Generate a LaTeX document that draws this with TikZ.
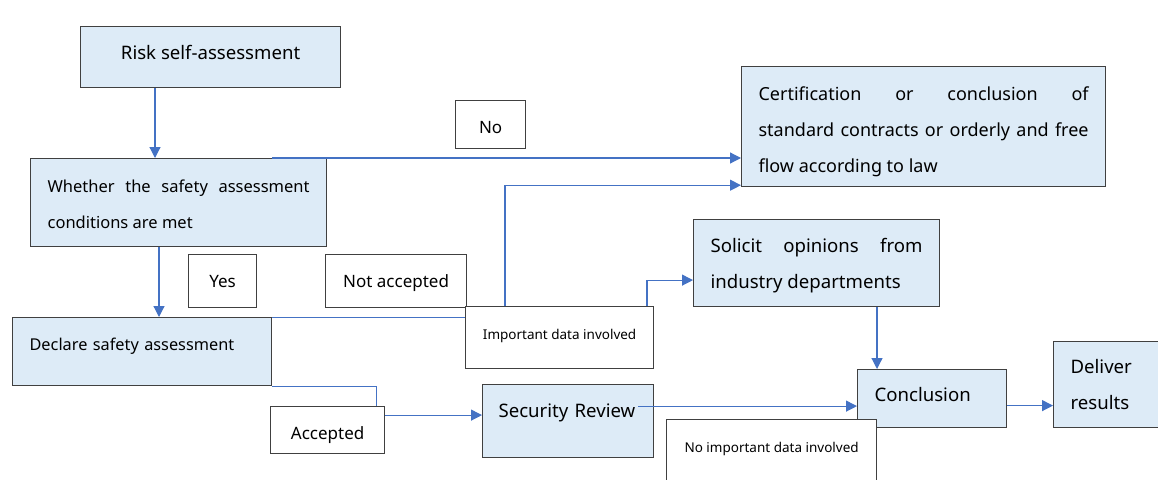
\documentclass[tikz,border=0pt]{standalone}
\usepackage{fontspec}
\setmainfont{Noto Sans}
\usetikzlibrary{arrows.meta}
\definecolor{boxfill}{HTML}{DDEBF7}
\definecolor{boxline}{HTML}{404040}
\definecolor{flowblue}{HTML}{4472C4}
\tikzset{
  stage/.style={draw=boxline, fill=boxfill, line width=1.2pt, anchor=north west,
    inner xsep=17pt, inner ysep=0pt, font=\fontsize{18.6}{36}\selectfont},
  tag/.style={draw=boxline, fill=white, line width=1.2pt, anchor=north west,
    inner sep=0pt, font=\fontsize{17}{20}\selectfont},
  flow/.style={draw=flowblue, line width=1.2pt, -{Triangle[length=11pt,width=11pt]}},
  link/.style={draw=flowblue, line width=1pt}
}
\begin{document}
\begin{tikzpicture}[x=1pt,y=-1pt]
  \useasboundingbox (0,0) rectangle (1158,479);
  % process steps
  \node[stage, inner xsep=0pt, minimum width=260pt, text height=33pt, text depth=28pt] (risk) at (80,26) {Risk self-assessment};
  \node[stage, text width=262pt, text height=34pt, text depth=54pt, align=justify, font=\fontsize{16.5}{36}\selectfont] (whether) at (30,158) {Whether the safety assessment\linebreak conditions are met};
  \node[stage, text width=225pt, align=left, text height=33pt, text depth=35pt, font=\fontsize{16.3}{36}\selectfont] (declare) at (12,317) {Declare safety assessment};
  \node[stage, text width=330pt, text height=34pt, text depth=86pt, align=justify, font=\fontsize{18}{36}\selectfont] (cert) at (741,66) {Certification or conclusion of\linebreak standard contracts or orderly and free\linebreak flow according to law};
  \node[stage, text width=212pt, text height=33pt, text depth=54pt, align=justify] (solicit) at (693,219) {Solicit opinions from\linebreak industry departments};
  \node[stage, inner xsep=16pt, text width=139pt, align=left, text height=33pt, text depth=40pt] (security) at (482,384) {Security Review};
  \node[stage, text width=115pt, align=left, text height=32pt, text depth=26pt] (conclusion) at (857,369) {Conclusion};
  \node[stage, text width=100pt, text height=32pt, text depth=54pt, align=left] (deliver) at (1053,341) {Deliver\\results};
  % branch labels
  \node[tag, minimum width=70pt, text height=33pt, text depth=15pt] (no) at (455,100) {No};
  \node[tag, minimum width=68pt, text height=33pt, text depth=20pt] (yes) at (188,254) {Yes};
  \node[tag, minimum width=141pt, text height=33pt, text depth=20pt] (notacc) at (325,254) {Not accepted};
  \node[tag, minimum width=114pt, text height=33pt, text depth=14pt] (accepted) at (270,406) {Accepted};
  \node[tag, minimum width=188pt, text height=33pt, text depth=29pt, font=\fontsize{13.5}{16}\selectfont] (important) at (465,306) {Important data involved};
  \node[tag, minimum width=210pt, text height=33pt, text depth=47pt, font=\fontsize{13.5}{16}\selectfont] (noimportant) at (666,419) {No important data involved};
  % connectors
  \coordinate (nofrom) at ([xshift=242pt]whether.north west);
  \coordinate (reviewout) at ([xshift=-16pt,yshift=15pt]security.east);
  \draw[flow] ([xshift=75pt]risk.south west) -- ([xshift=75pt]risk.south west |- whether.north);
  \draw[flow] ([xshift=129pt]whether.south west) -- ([xshift=129pt]whether.south west |- declare.north);
  \draw[flow] (nofrom) -- (nofrom -| cert.west);
  \draw[flow] ([xshift=40pt]important.north west) |- ([yshift=2pt]cert.south west);
  \draw[flow] ([xshift=182pt]important.north west) |- ([yshift=-17pt]solicit.west);
  \draw[link] (declare.north east) -- (declare.north east -| important.west);
  \draw[link] (declare.south east) -| ([xshift=106pt]accepted.north west);
  \draw[flow] ([yshift=15pt]accepted.east) -- ([yshift=15pt]accepted.east -| security.west);
  \draw[flow] (reviewout) -- (reviewout -| conclusion.west);
  \draw[flow] ([xshift=20pt]conclusion.north west |- solicit.south) -- ([xshift=20pt]conclusion.north west);
  \draw[flow] ([yshift=-7pt]conclusion.east) -- ([yshift=-7pt]conclusion.east -| deliver.west);
\end{tikzpicture}
\end{document}
